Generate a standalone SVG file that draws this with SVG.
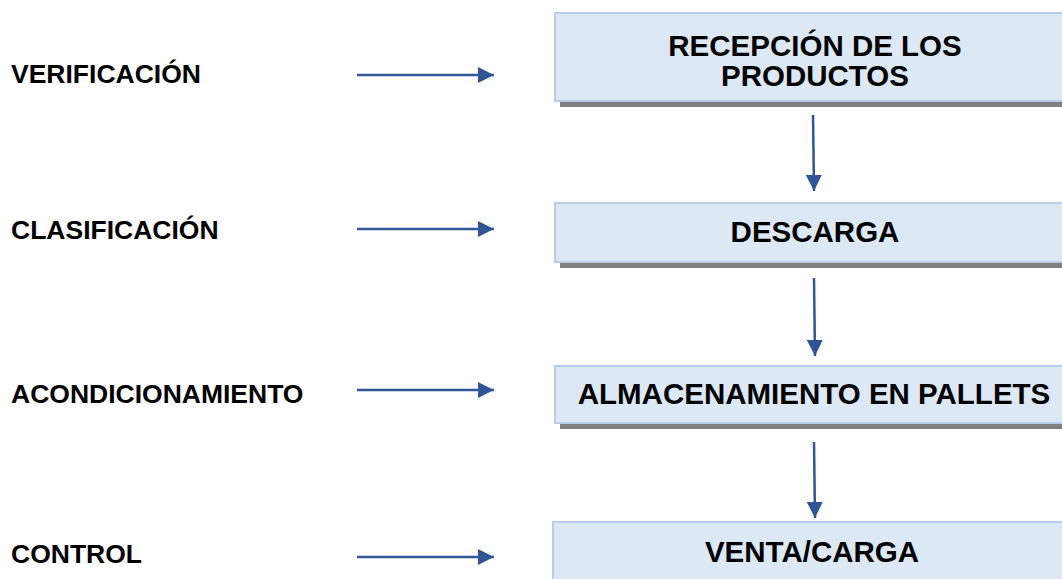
<svg xmlns="http://www.w3.org/2000/svg" width="1062" height="579" viewBox="0 0 1062 579">
<defs>
<marker id="ah" markerWidth="16" markerHeight="16" refX="16" refY="8" orient="auto" markerUnits="userSpaceOnUse">
<path d="M0,0 L16,8 L0,16 Z" fill="#2f5597"/>
</marker>
</defs>
<style>
.lbl{font-family:"Liberation Sans",Arial,sans-serif;font-weight:bold;font-size:26.5px;fill:#000}
.bt{font-family:"Liberation Sans",Arial,sans-serif;font-weight:bold;font-size:29.5px;fill:#000;text-anchor:middle}
.box{fill:#dde8f5;stroke:#b7cde9;stroke-width:2}
.sh{fill:#7f7f7f}
.c{stroke:#2f5597;stroke-width:2.5;fill:none;marker-end:url(#ah)}
</style>
<rect width="1062" height="579" fill="#fff"/>
<g id="lbl-verificacion"><text class="lbl" x="11" y="83">VERIFICACIÓN</text></g>
<g id="lbl-clasificacion"><text class="lbl" x="11" y="239">CLASIFICACIÓN</text></g>
<g id="lbl-acondicionamiento"><text class="lbl" x="11" y="403">ACONDICIONAMIENTO</text></g>
<g id="lbl-control"><text class="lbl" x="11" y="563">CONTROL</text></g>
<g id="n-recepcion">
<rect class="sh" x="560" y="102" width="520" height="5"/>
<rect class="box" x="555" y="13" width="520" height="88"/>
<text class="bt" x="815" y="56">RECEPCIÓN DE LOS</text>
<text class="bt" x="815" y="86">PRODUCTOS</text>
</g>
<g id="n-descarga">
<rect class="sh" x="560" y="263" width="520" height="5"/>
<rect class="box" x="555" y="203" width="520" height="59"/>
<text class="bt" x="815" y="242">DESCARGA</text>
</g>
<g id="n-almacenamiento">
<rect class="sh" x="560" y="424" width="520" height="5"/>
<rect class="box" x="555" y="366" width="520" height="57"/>
<text class="bt" x="814" y="404">ALMACENAMIENTO EN PALLETS</text>
</g>
<g id="n-venta">
<rect class="box" x="553" y="522" width="522" height="70"/>
<text class="bt" x="812" y="562">VENTA/CARGA</text>
</g>
<g id="connectors">
<line class="c" x1="357" y1="75" x2="494" y2="75"/>
<line class="c" x1="357" y1="229" x2="494" y2="229"/>
<line class="c" x1="357" y1="390" x2="494" y2="390"/>
<line class="c" x1="357" y1="557" x2="494" y2="557"/>
<line class="c" x1="813" y1="115" x2="814" y2="191"/>
<line class="c" x1="814" y1="278" x2="815" y2="356"/>
<line class="c" x1="814" y1="442" x2="815" y2="518"/>
</g>
</svg>
